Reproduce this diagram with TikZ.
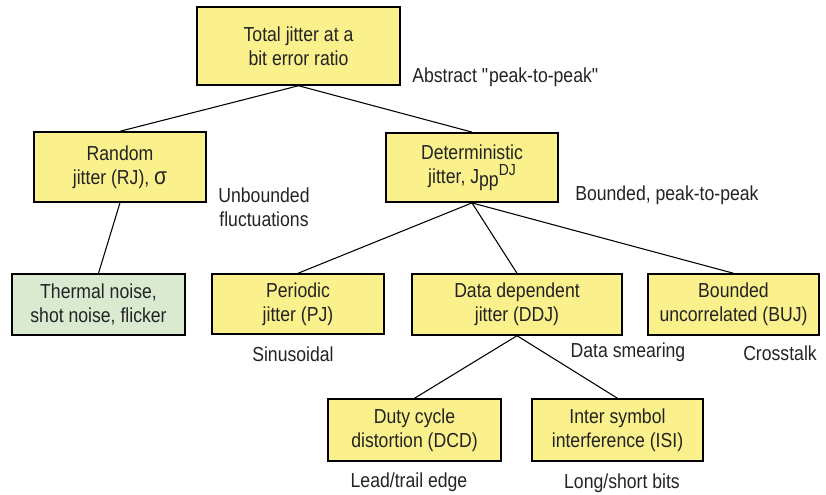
\documentclass[tikz,border=0pt]{standalone}
\usepackage{fontspec}
\setmainfont{Liberation Sans}[FakeStretch=0.87]
\usepackage{xcolor}
\usepackage{tikz}
\usetikzlibrary{positioning}
\definecolor{jyellow}{RGB}{250,240,140}
\definecolor{jgreen}{RGB}{218,234,208}
\definecolor{jtext}{RGB}{35,35,35}
\tikzset{%
	jitterbox/.style = {draw, rectangle, line width=1.1pt, fill=jyellow, text=jtext, align=center, inner sep=0pt},
	causebox/.style  = {jitterbox, fill=jgreen},
	note/.style      = {text=jtext, align=center, inner sep=0pt},
	branch/.style    = {line width=0.8pt},
}
\newcommand{\Jpp}{J\raisebox{-0.25ex}{pp}\raisebox{0.75ex}{\fontsize{12}{12}\selectfont DJ}}

\begin{document}
\begin{tikzpicture}[x=0.75pt,y=-0.75pt]
		\fontsize{15.2}{18}\selectfont
		\useasboundingbox (0,0) rectangle (826,495);
		
		% top level
		\node[jitterbox, minimum width=152pt, minimum height=58.5pt] (tj) at (298.5,46) {Total jitter at a\\bit error ratio};
		\node[note, anchor=west] (abs) at (412,77) {Abstract \textquotedbl peak-to-peak\textquotedbl};
		
		% random and deterministic
		\node[jitterbox, minimum width=129pt, minimum height=52.5pt] (rj) at (120,167) {Random\\jitter (RJ), {\fontsize{18}{18}\selectfont σ}};
		\node[jitterbox, minimum width=129pt, minimum height=52pt] (dj) at (472,167.5) {Deterministic\\jitter, \Jpp};
		\node[note] (unb) at (264,207) {Unbounded\\fluctuations};
		\node[note, anchor=west] (bnd) at (575,195) {Bounded, peak-to-peak};
		
		% third row
		\node[causebox, minimum width=130pt, minimum height=45.75pt] (th) at (98.5,304.5) {Thermal noise,\\shot noise, flicker};
		\node[jitterbox, minimum width=129pt, minimum height=45pt] (pj) at (298,304) {Periodic\\jitter (PJ)};
		\node[jitterbox, minimum width=157.5pt, minimum height=45.75pt] (ddj) at (517,304.5) {Data dependent\\jitter (DDJ)};
		\node[jitterbox, minimum width=128.25pt, minimum height=45.75pt] (buj) at (733.5,304.5) {Bounded\\uncorrelated (BUJ)};
		\node[note] (sin) at (293,354) {Sinusoidal};
		\node[note] (sme) at (628,352) {Data smearing};
		\node[note] (crs) at (780,353) {Crosstalk};
		
		% bottom row
		\node[jitterbox, minimum width=129.75pt, minimum height=46.5pt] (dcd) at (414.5,430) {Duty cycle\\distortion (DCD)};
		\node[jitterbox, minimum width=128.25pt, minimum height=46.5pt] (isi) at (617.5,430) {Inter symbol\\interference (ISI)};
		\node[note] (lte) at (409,482) {Lead/trail edge};
		\node[note] (lsb) at (622,483) {Long/short bits};
		
		% branches
		\draw[branch] (tj.south) -- (rj.north);
		\draw[branch] (tj.south) -- (dj.north);
		\draw[branch] (rj.south) -- (th.north);
		\foreach \n in {pj,ddj,buj} \draw[branch] (dj.south) -- (\n.north);
		\foreach \n in {dcd,isi} \draw[branch] (ddj.south) -- (\n.north);
\end{tikzpicture}
\end{document}
